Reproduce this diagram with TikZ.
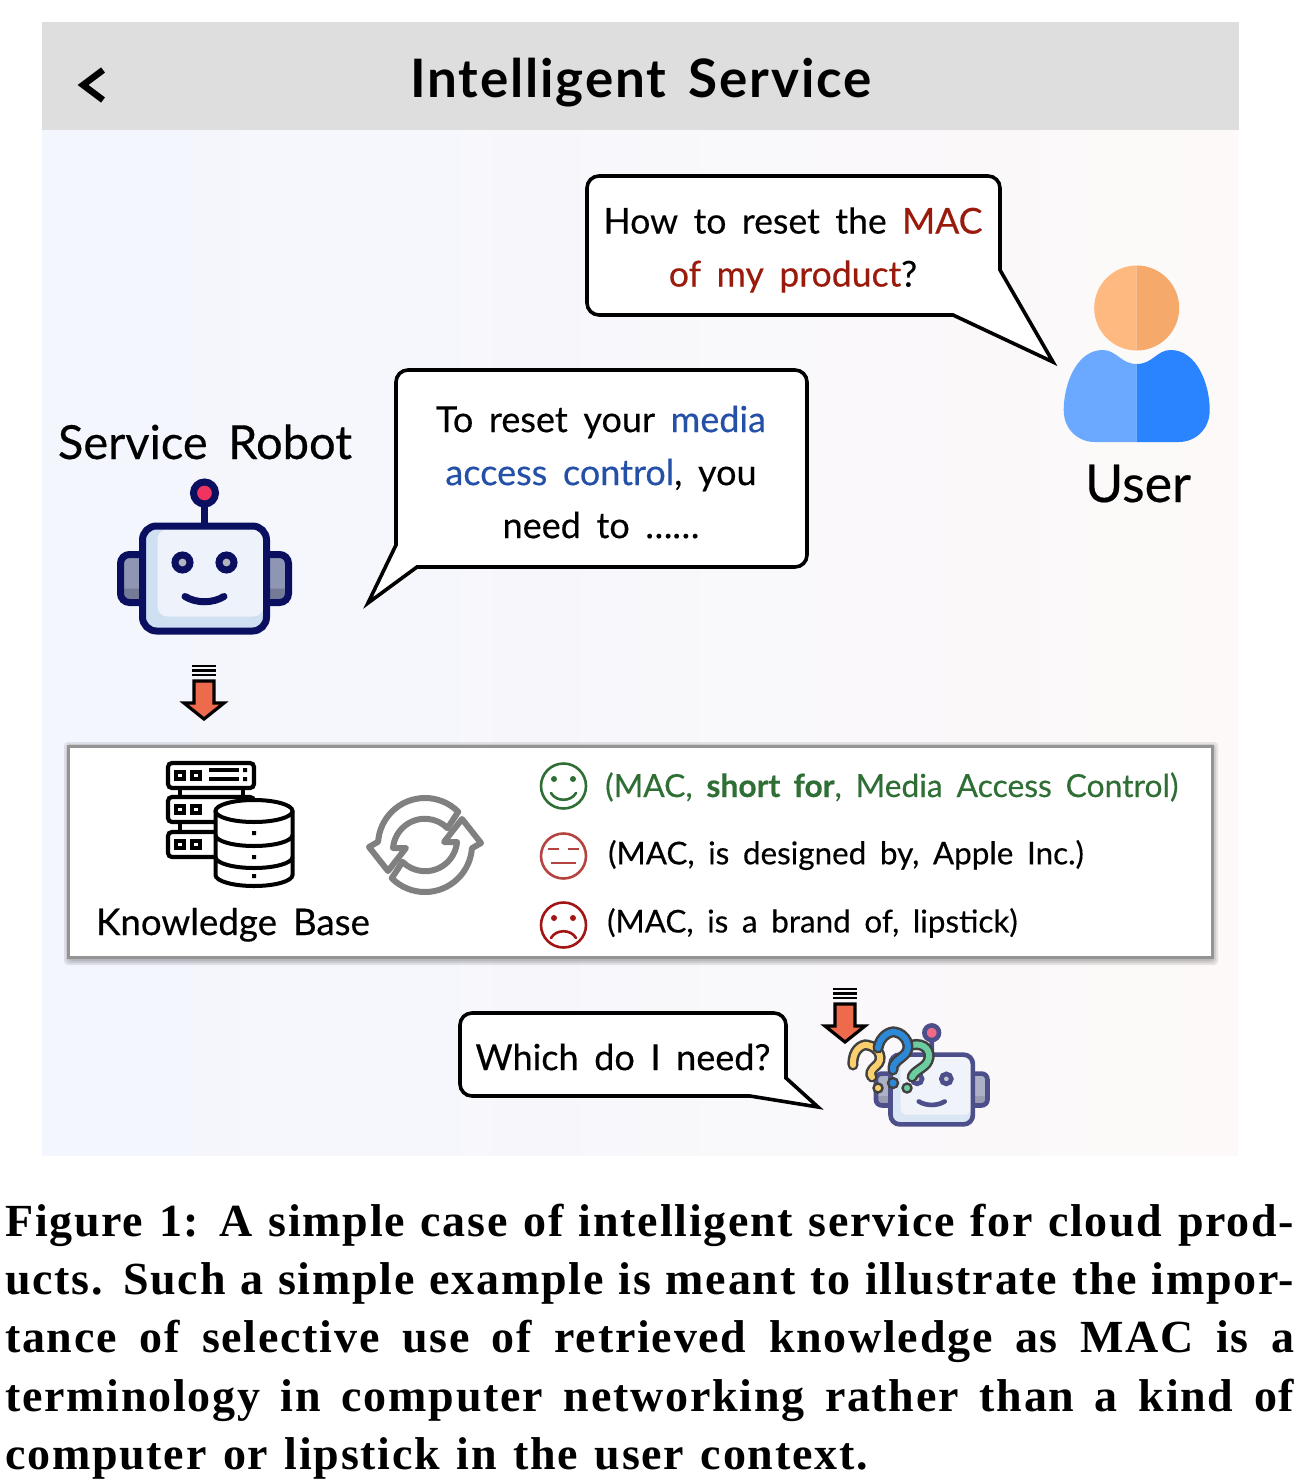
\documentclass[tikz,border=0pt]{standalone}
\usepackage{fontspec}
\usepackage{tikz}
\newfontfamily\handfont{Lato}[WordSpace=1.7,FakeBold=.35]
\newfontfamily\titlefont{Lato}[WordSpace=1.5,LetterSpace=3.5]
\newfontfamily\capfont{Liberation Serif}[WordSpace=1.25,LetterSpace=3.8]
\definecolor{bgleft}{HTML}{F3F6FD}
\definecolor{bgright}{HTML}{FDF9F9}
\definecolor{navy}{HTML}{0A0F60}
\definecolor{askred}{HTML}{9A1A0C}
\definecolor{ansblue}{HTML}{2450A8}
\definecolor{goodgreen}{HTML}{2F6F35}
\definecolor{faceMid}{HTML}{B5433F}
\definecolor{faceBad}{HTML}{A31515}
\definecolor{earTop}{HTML}{8E96B3}
\definecolor{earLow}{HTML}{757B96}
\definecolor{headShade}{HTML}{CFE0F2}
\definecolor{headLight}{HTML}{EEF2FB}
\definecolor{antennaRed}{HTML}{F0345F}
\definecolor{eyeGray}{HTML}{B0B5C0}
\definecolor{arrowRed}{HTML}{EE6A4D}
\definecolor{bodyLeft}{HTML}{6AA9FF}
\definecolor{bodyRight}{HTML}{2A83FF}
\definecolor{headLeft}{HTML}{FDB97F}
\definecolor{headRight}{HTML}{F5A96B}
\definecolor{qYellow}{HTML}{FCCF6E}
\definecolor{qGreen}{HTML}{6CCD9E}
\definecolor{qBlue}{HTML}{2E88D8}
\begin{document}
\begin{tikzpicture}[x=1pt,y=-1pt,
      bubble/.style={draw=black,fill=white,line width=3.6pt,rounded corners=12pt,line join=miter},
      bubbletext/.style={font=\handfont\fontsize{36}{53}\selectfont,align=center,inner sep=0pt},
      robotlabel/.style={font=\handfont\fontsize{47}{50}\selectfont,anchor=base,inner sep=0pt},
      triple/.style={font=\handfont\fontsize{31.4}{36}\selectfont,anchor=west,inner sep=0pt},
      facering/.style={draw=#1,line width=2.6pt,fill=white,circle,minimum size=45pt,inner sep=0pt},
      kbbox/.style={draw=black!42,line width=3pt,fill=white},
      robot/.pic={
        \fill[earTop] (-84,-24) rectangle (-60,24) (60,-24) rectangle (84,24);
        \fill[earLow] (-84,10) rectangle (-60,24) (60,10) rectangle (84,24);
        \draw[navy,line width=#1*7pt,rounded corners=#1*9pt] (-62,-24) -- (-84,-24) -- (-84,24) -- (-62,24);
        \draw[navy,line width=#1*7pt,rounded corners=#1*9pt] (62,-24) -- (84,-24) -- (84,24) -- (62,24);
        \draw[navy,line width=#1*7pt] (0,-75) -- (0,-52);
        \draw[navy,line width=#1*7pt,fill=antennaRed] (0,-85.5) circle (11);
        \fill[rounded corners=#1*14pt,fill=headShade] (-62,-52.5) rectangle (62,52.5);
        \fill[rounded corners=#1*10pt,fill=headLight] (-47,-49) -- (-47,38) -- (59,38) -- (59,-49) -- cycle;
        \draw[navy,line width=#1*7pt,rounded corners=#1*14pt] (-62,-52.5) rectangle (62,52.5);
        \foreach \eyex in {-22,22} {
          \draw[navy,line width=#1*7pt,fill=eyeGray] (\eyex,-16) circle (7.5);
        }
        \draw[navy,line width=#1*7pt,line cap=round] (-19.5,18) .. controls (-8,25) and (8,25) .. (19.5,18);
      },
      downarrow/.pic={
        \foreach \stripey in {0,4.5,9} {
          \draw[line width=2.6pt] (-12,\stripey) -- (12,\stripey);
        }
        \draw[line width=3.2pt,fill=arrowRed,line join=miter]
          (-10,15) -- (10,15) -- (10,37) -- (20,37) -- (0,53) -- (-20,37) -- (-10,37) -- cycle;
      },
      syncarc/.pic={
        \draw[black!50,line width=6pt,fill=white,line join=round,yscale=-1]
          (45:47) arc (45:176:47) -- (-56,-2) -- (-37,-26) -- (-19,-3) -- (-32,-3) arc (175:45:32) -- cycle;
      },
      qmark/.style={line width=11pt,line cap=round,draw=black!75},
      qfill/.style={line width=6pt,line cap=round,draw=#1},
    ]
    \useasboundingbox (0,0) rectangle (1310,1480);

    \shade[left color=bgleft,right color=bgright] (42,130) rectangle (1238,1155);
    \node[fill=black!13,minimum width=1197pt,minimum height=108pt,inner sep=0pt] (header) at (640,76) {};
    \node[font=\titlefont\bfseries\fontsize{53}{53}\selectfont,anchor=base,inner sep=0pt] (title) at (641,97) {Intelligent Service};
    \coordinate (backTop) at (103,70);
    \coordinate (backTip) at (83,85);
    \coordinate (backEnd) at (103,100);
    \draw[line width=6.5pt,line join=miter] (backTop) -- (backTip) -- (backEnd);

    % user question
    \draw[bubble] (587,176) -- (1000,176) [sharp corners] -- (1000,270) -- (1053,362) -- (953,315) [rounded corners=12pt] -- (587,315) -- cycle;
    \node[bubbletext,font=\handfont\fontsize{35.6}{53}\selectfont] (askText) at (793,250) {How to reset the \textcolor{askred}{MAC}\\\textcolor{askred}{of my product}?};

    % user
    \foreach \side/\bodycol/\headcol in {1/bodyLeft/headLeft,-1/bodyRight/headRight} {
      \begin{scope}[shift={(1136.7,364)},xscale=\side]
        \fill[\bodycol] (0,0) .. controls (-16,0) and (-20,-14) .. (-34,-14) .. controls (-60,-14) and (-73,20) .. (-73,46)
          .. controls (-73,66) and (-58,78) .. (-42,78) -- (0,78) -- cycle;
        \fill[\headcol] (0,-98.5) arc (270:90:42.5) -- cycle;
      \end{scope}
    }
    \node[robotlabel,font=\handfont\fontsize{52}{54}\selectfont] (userLabel) at (1138,502) {User};

    % robot answer
    \draw[bubble] (396,370) -- (807,370) -- (807,567) [sharp corners] -- (417,567) -- (368,603) -- (396,545) [rounded corners=12pt] -- cycle;
    \node[bubbletext] (ansText) at (601,472) {To reset your \textcolor{ansblue}{media}\\\textcolor{ansblue}{access control}, you\\need to ……};

    \node[robotlabel] (robotLabel) at (205,459) {Service Robot};
    \pic at (204.5,578.5) {robot=1};
    \pic at (204,666) {downarrow};

    % knowledge base
    \foreach \soft in {7,5,3} {
      \fill[black,opacity=.09,rounded corners=4pt] (68-\soft+3,746-\soft+3) rectangle (1212+\soft-1,957+\soft+1);
    }
    \node[kbbox,minimum width=1144pt,minimum height=211pt,inner sep=0pt] (kbBox) at (640,851.5) {};
    \begin{scope}[line width=4.2pt,rounded corners=4pt]
      \draw[fill=white] (168,763) rectangle (254,788);
      \draw[fill=white] (168,797) rectangle (254,822);
      \draw[fill=white] (168,832) rectangle (254,857);
      \draw (180,789) -- (180,796) (243,789) -- (243,796) (180,823) -- (180,831);
    \end{scope}
    \foreach \racky in {775.5,809.5,844.5} {
      \draw[line width=3.2pt] (176,\racky-3.5) rectangle (184,\racky+3.5) (192,\racky-3.5) rectangle (200,\racky+3.5);
    }
    \draw[line width=3.4pt] (209,770) -- (239,770) (209,779) -- (239,779);
    \fill (243,768) rectangle (247,772) (243,777) rectangle (247,781);
    \draw[line width=4pt,fill=white] (215.5,811) -- (215.5,875) arc (180:0:38.5 and 11) -- (292.5,811);
    \draw[line width=4pt,fill=white] (254,811) ellipse (38.5 and 11);
    \draw[line width=4pt] (215.5,835) arc (180:0:38.5 and 11) (215.5,857) arc (180:0:38.5 and 11);
    \fill (252,831) rectangle (256,835) (252,855) rectangle (256,859) (252,874) rectangle (256,878);
    \node[robotlabel,font=\handfont\fontsize{36.7}{40}\selectfont] (kbLabel) at (233,935) {Knowledge Base};

    \pic at (425,845) {syncarc};
    \pic[rotate=180] at (425,845) {syncarc};

    % triples
    \node[facering=goodgreen] (goodFace) at (563.5,786) {};
    \fill[goodgreen] (554,779) circle (3) (573,779) circle (3);
    \draw[goodgreen,line width=2.6pt,line cap=round] (551,793) .. controls (556,802) and (571,802) .. (576,793);
    \node[triple,text=goodgreen,font=\handfont\fontsize{31.8}{36}\selectfont] (goodText) at (605,787) {(MAC, \textbf{short for}, Media Access Control)};

    \node[facering=faceMid] (midFace) at (563.5,856) {};
    \draw[faceMid,line width=2.6pt] (548,849) -- (559,849) (568,849) -- (579,849) (551,863) -- (576,863);
    \node[triple] (midText) at (608,855) {(MAC, is designed by, Apple Inc.)};

    \node[facering=faceBad] (badFace) at (563.5,925) {};
    \fill[faceBad] (554,918) circle (3) (573,918) circle (3);
    \draw[faceBad,line width=2.6pt,line cap=round] (551,938) .. controls (556,929) and (571,929) .. (576,938);
    \node[triple] (badText) at (607,923) {(MAC, is a brand of, lipstick)};

    % clarification
    \pic at (845,989) {downarrow};
    \draw[bubble] (460,1013) -- (786,1013) [sharp corners] -- (786,1078) -- (818,1107) -- (750,1096) [rounded corners=12pt] -- (460,1096) -- cycle;
    \node[bubbletext] (whichText) at (623,1057) {Which do I need?};
    \begin{scope}[transparency group,opacity=.72]
      \pic[scale=.664] at (931.7,1089.5) {robot=.664};
    \end{scope}
    \draw[qmark] (853,1065) .. controls (852,1050) and (862,1044) .. (867,1045) .. controls (880,1047) and (884,1060) .. (876,1066) .. controls (870,1071) and (870,1074) .. (872,1077);
    \draw[qfill=qYellow] (853,1065) .. controls (852,1050) and (862,1044) .. (867,1045) .. controls (880,1047) and (884,1060) .. (876,1066) .. controls (870,1071) and (870,1074) .. (872,1077);
    \draw[qmark] (912,1045) .. controls (925,1042) and (932,1052) .. (928,1061) .. controls (925,1068) and (915,1070) .. (912,1077);
    \draw[qfill=qGreen] (912,1045) .. controls (925,1042) and (932,1052) .. (928,1061) .. controls (925,1068) and (915,1070) .. (912,1077);
    \draw[qmark] (878,1048) .. controls (880,1036) and (890,1031) .. (895,1032) .. controls (906,1034) and (911,1046) .. (906,1053) .. controls (900,1060) and (892,1062) .. (893,1070);
    \draw[qfill=qBlue] (878,1048) .. controls (880,1036) and (890,1031) .. (895,1032) .. controls (906,1034) and (911,1046) .. (906,1053) .. controls (900,1060) and (892,1062) .. (893,1070);
    \draw[black!75,line width=2.4pt,fill=qYellow] (878,1088) circle (4.5);
    \draw[black!75,line width=2.4pt,fill=qBlue] (893,1083) circle (5);
    \draw[black!75,line width=2.4pt,fill=qGreen] (907,1088) circle (4.5);

    % caption
    \node[anchor=north west,inner sep=0pt,text width=1289pt,align=justify,font=\capfont\bfseries\fontsize{46}{58.4}\selectfont] (caption) at (5,1203.5)
      {Figure 1: A simple case of intelligent service for cloud prod-\linebreak ucts. Such a simple example is meant to illustrate the impor-\linebreak tance of selective use of retrieved knowledge as MAC is a\linebreak terminology in computer networking rather than a kind of\linebreak computer or lipstick in the user context.};
\end{tikzpicture}
\end{document}
